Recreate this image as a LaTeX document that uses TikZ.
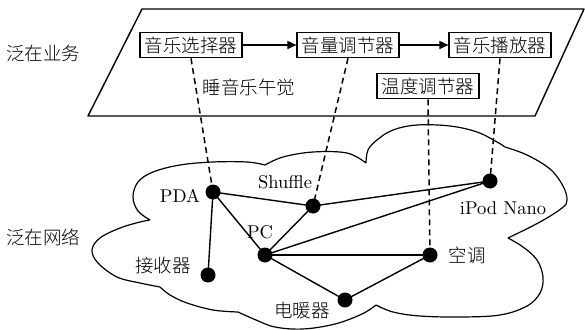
\documentclass[tikz,border=0pt]{standalone}
\usepackage{fontspec}
\setmainfont{lmroman10-regular.otf}
\newfontfamily\cjk{Noto Sans CJK SC}[UprightFont=* Light]
\usetikzlibrary{arrows.meta}
\tikzset{
  every node/.style={font=\fontsize{18.5}{20}\selectfont},
  svcbox/.style={draw, line width=1.6pt, inner xsep=4.5pt, inner ysep=0pt, minimum height=25pt, font=\fontsize{18.5}{20}\selectfont\cjk},
  cjklabel/.style={font=\fontsize{18.5}{20}\selectfont\cjk, inner sep=0pt},
  latlabel/.style={inner sep=0pt},
  dev/.style={circle, fill=black, minimum size=15pt, inner sep=0pt},
  link/.style={line width=1.4pt},
  bind/.style={line width=1.5pt, dash pattern=on 6pt off 4pt},
  flow/.style={line width=1.4pt, -{Triangle[length=9pt,width=8pt]}},
  outline/.style={line width=1.4pt, line join=round}
}
\begin{document}
\begin{tikzpicture}[x=1pt, y=-1pt]
\useasboundingbox (0,0) rectangle (585,329);
% plane of services
\draw[outline] (88,116) -- (535,116) -- (584,9) -- (142,9) -- cycle;
% cloud
\draw[outline, line width=1.2pt]
  plot[smooth, tension=0.6] coordinates {(150,220) (138,211) (133,197) (138,182) (153,172) (180,165) (213,162) (247,162) (265,165)}
  plot[smooth, tension=0.6] coordinates {(265,165) (283,157) (313,152) (347,153) (366,163)}
  plot[smooth, tension=0.6] coordinates {(366,163) (368,150) (377,140) (393,130) (417,125) (450,126) (477,132) (497,142) (505,147)}
  plot[smooth, tension=0.6] coordinates {(505,147) (527,155) (550,169) (563,186) (567,200) (562,208) (540,222) (508,238)}
  plot[smooth, tension=0.6] coordinates {(508,238) (523,247) (537,260) (543,277) (540,293) (527,306) (500,315) (460,317) (420,316) (393,312) (376,305)}
  plot[smooth, tension=0.6] coordinates {(376,305) (362,314) (335,324) (303,329) (275,327) (256,320) (238,312)}
  plot[smooth, tension=0.6] coordinates {(238,312) (213,310) (187,303) (170,295) (160,287)}
  plot[smooth, tension=0.6] coordinates {(160,287) (140,283) (117,277) (98,263) (92,250) (100,238) (120,228) (140,222) (150,220)};
% layer labels
\node[cjklabel] (lsvc) at (43,53) {泛在业务};
\node[cjklabel] (lnet) at (43,237) {泛在网络};
% service boxes
\node[svcbox] (b1) at (191,45) {音乐选择器};
\node[svcbox] (b2) at (348,45) {音量调节器};
\node[svcbox] (b3) at (500,45) {音乐播放器};
\node[svcbox] (b4) at (428,86) {温度调节器};
\node[cjklabel] (sleep) at (249,87) {睡音乐午觉};
\draw[flow] (b1) -- (b2);
\draw[flow] (b2) -- (b3);
% devices
\node[dev] (pda) at (213,192) {};
\node[dev] (shuf) at (313,206) {};
\node[dev] (ipod) at (490,181) {};
\node[dev] (pc) at (265,255) {};
\node[dev] (ac) at (430,255) {};
\node[dev] (recv) at (208,275) {};
\node[dev] (heat) at (345,300) {};
% device labels
\node[latlabel] (tpda) at (180,196) {PDA};
\node[latlabel] (tshuf) at (285,182) {Shuffle};
\node[latlabel] (tipod) at (503,208) {iPod Nano};
\node[latlabel] (tpc) at (260,232) {PC};
\node[cjklabel] (tac) at (467,255) {空调};
\node[cjklabel] (trecv) at (163,265) {接收器};
\node[cjklabel] (theat) at (302,310) {电暖器};
% links
\draw[link] (pda.center) -- (shuf.center);
\draw[link] (pda.center) -- (recv.center);
\draw[link] (pda.center) -- (pc.center);
\draw[link] (shuf.center) -- (ipod.center);
\draw[link] (shuf.center) -- (pc.center);
\draw[link] (pc.center) -- (ipod.center);
\draw[link] (pc.center) -- (ac.center);
\draw[link] (pc.center) -- (heat.center);
\draw[link] (heat.center) -- (ac.center);
% bindings
\draw[bind] (b1.south) -- (pda.center);
\draw[bind] (b2.south) -- (shuf.center);
\draw[bind] (b3.south) -- (ipod.center);
\draw[bind] (b4.south) -- (ac.center);
\end{tikzpicture}
\end{document}
